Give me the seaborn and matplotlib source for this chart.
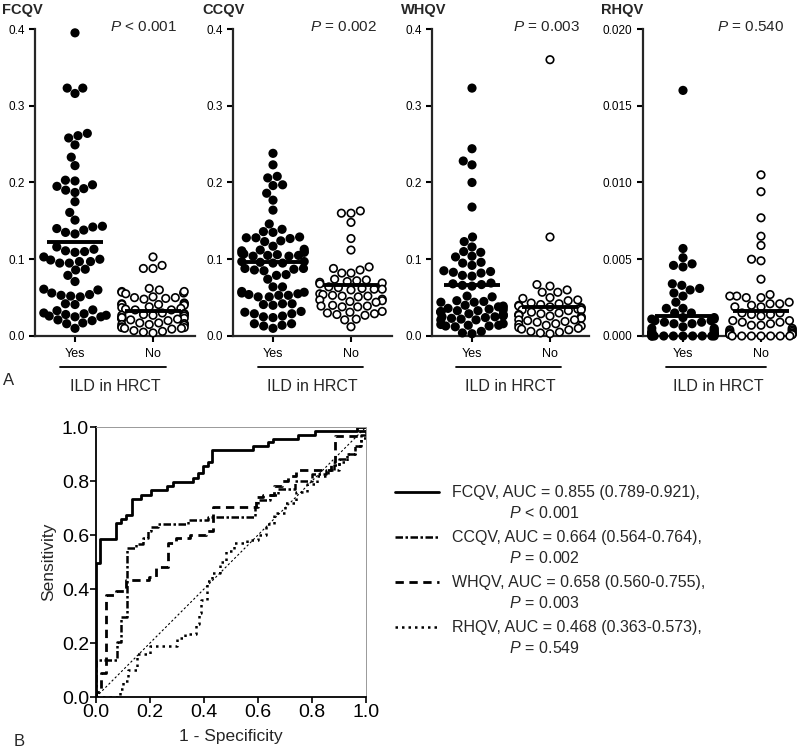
import warnings
import numpy as np
import pandas as pd
import matplotlib
matplotlib.use("Agg")
import matplotlib.pyplot as plt
import seaborn as sns

warnings.filterwarnings("ignore")

# ---- panel A: quantitative values by ILD status ----
groups = ["Yes", "No"]

fcqv_yes = [0.395, 0.323, 0.316, 0.323, 0.264, 0.258, 0.261, 0.249, 0.233, 0.222,
            0.203, 0.202, 0.197, 0.195, 0.192, 0.190, 0.187, 0.175, 0.161, 0.151,
            0.142, 0.140, 0.143, 0.138, 0.135, 0.133, 0.116, 0.113, 0.110, 0.111,
            0.109, 0.103, 0.100, 0.097, 0.095, 0.097, 0.095, 0.099, 0.087, 0.086,
            0.079, 0.071, 0.061, 0.060, 0.056, 0.054, 0.053, 0.052, 0.051, 0.042,
            0.041, 0.034, 0.033, 0.030, 0.028, 0.026, 0.025, 0.025, 0.027, 0.029,
            0.021, 0.020, 0.017, 0.016, 0.010]
fcqv_no = [0.103, 0.092, 0.088, 0.088, 0.062, 0.060, 0.058, 0.057, 0.056, 0.058,
           0.055, 0.051, 0.050, 0.049, 0.050, 0.048, 0.043, 0.042, 0.042, 0.041,
           0.041, 0.040, 0.038, 0.037, 0.036, 0.035, 0.034, 0.034, 0.030, 0.029,
           0.028, 0.029, 0.027, 0.027, 0.028, 0.026, 0.024, 0.023, 0.022, 0.023,
           0.022, 0.021, 0.024, 0.020, 0.017, 0.016, 0.015, 0.016, 0.017, 0.015,
           0.014, 0.012, 0.011, 0.010, 0.011, 0.010, 0.009, 0.007, 0.006, 0.005,
           0.004]

ccqv_yes = [0.238, 0.223, 0.208, 0.206, 0.197, 0.196, 0.186, 0.177, 0.164, 0.146,
            0.139, 0.136, 0.135, 0.129, 0.128, 0.128, 0.127, 0.124, 0.123, 0.117,
            0.113, 0.112, 0.111, 0.110, 0.109, 0.108, 0.107, 0.106, 0.105, 0.105,
            0.104, 0.104, 0.097, 0.097, 0.096, 0.095, 0.095, 0.088, 0.088, 0.087,
            0.086, 0.085, 0.080, 0.079, 0.074, 0.064, 0.064, 0.058, 0.057, 0.056,
            0.055, 0.054, 0.053, 0.053, 0.051, 0.051, 0.042, 0.042, 0.041, 0.040,
            0.032, 0.031, 0.029, 0.029, 0.026, 0.025, 0.024, 0.016, 0.016, 0.014,
            0.013, 0.010]
ccqv_no = [0.163, 0.160, 0.160, 0.148, 0.127, 0.112, 0.090, 0.088, 0.086, 0.082,
           0.082, 0.074, 0.073, 0.072, 0.071, 0.070, 0.069, 0.068, 0.064, 0.063,
           0.062, 0.061, 0.061, 0.060, 0.055, 0.054, 0.053, 0.052, 0.052, 0.051,
           0.048, 0.047, 0.046, 0.045, 0.044, 0.040, 0.039, 0.039, 0.038, 0.038,
           0.032, 0.031, 0.030, 0.029, 0.028, 0.027, 0.022, 0.021, 0.012]

whqv_yes = [0.323, 0.244, 0.228, 0.223, 0.200, 0.168, 0.129, 0.123, 0.116, 0.110,
            0.109, 0.104, 0.103, 0.096, 0.095, 0.092, 0.085, 0.084, 0.083, 0.082,
            0.079, 0.078, 0.069, 0.068, 0.067, 0.066, 0.065, 0.052, 0.051, 0.046,
            0.045, 0.044, 0.044, 0.040, 0.039, 0.038, 0.037, 0.036, 0.035, 0.034,
            0.033, 0.033, 0.032, 0.031, 0.031, 0.029, 0.028, 0.027, 0.026, 0.025,
            0.025, 0.024, 0.023, 0.022, 0.021, 0.021, 0.016, 0.015, 0.014, 0.014,
            0.013, 0.013, 0.012, 0.006, 0.004, 0.003]
whqv_no = [0.360, 0.129, 0.067, 0.065, 0.060, 0.057, 0.057, 0.050, 0.049, 0.047,
           0.046, 0.043, 0.042, 0.041, 0.040, 0.039, 0.038, 0.037, 0.036, 0.035,
           0.034, 0.034, 0.033, 0.031, 0.030, 0.029, 0.028, 0.027, 0.027, 0.026,
           0.025, 0.024, 0.023, 0.021, 0.021, 0.020, 0.019, 0.018, 0.016, 0.015,
           0.014, 0.013, 0.011, 0.010, 0.009, 0.008, 0.006, 0.005, 0.004, 0.003]

rhqv_yes = [0.0160, 0.0057, 0.0051, 0.0047, 0.0046, 0.0045, 0.0034, 0.0033, 0.0031,
            0.0030, 0.0028, 0.0026, 0.0022, 0.0018, 0.0018, 0.0015, 0.0015, 0.0012,
            0.0012, 0.0011, 0.0011, 0.0010, 0.0010, 0.0009, 0.0009, 0.0008, 0.0008,
            0.0006, 0.0005, 0.0005, 0.0004, 0.0003, 0.0003, 0.0002, 0.0002, 0.0002,
            0.0001, 0.0001, 0.0001, 0.0001, 0.0001, 0.0000, 0.0000, 0.0000, 0.0000,
            0.0000, 0.0000, 0.0000, 0.0000, 0.0000, 0.0000]
rhqv_no = [0.0105, 0.0094, 0.0077, 0.0065, 0.0059, 0.0050, 0.0049, 0.0037, 0.0027,
           0.0026, 0.0026, 0.0025, 0.0025, 0.0022, 0.0021, 0.0021, 0.0020, 0.0019,
           0.0019, 0.0015, 0.0015, 0.0014, 0.0014, 0.0013, 0.0010, 0.0010, 0.0009,
           0.0009, 0.0008, 0.0007, 0.0007, 0.0005, 0.0004, 0.0004, 0.0003, 0.0003,
           0.0002, 0.0002, 0.0002, 0.0001, 0.0001, 0.0001, 0.0001, 0.0000, 0.0000,
           0.0000, 0.0000, 0.0000, 0.0000, 0.0000]

# group centre lines (Yes, No)
fcqv_lines = [0.123, 0.033]
ccqv_lines = [0.096, 0.066]
whqv_lines = [0.066, 0.038]
rhqv_lines = [0.0013, 0.0016]

panel_names = ["FCQV", "CCQV", "WHQV", "RHQV"]
panel_p = ["$P$ < 0.001", "$P$ = 0.002", "$P$ = 0.003", "$P$ = 0.540"]
panel_ymax = [0.4, 0.4, 0.4, 0.02]
panel_ystep = [0.1, 0.1, 0.1, 0.005]
panel_fmt = ["%.1f", "%.1f", "%.1f", "%.3f"]

# ---- panel B: ROC curves ----
fcqv_fpr = [0, 0, 0.015, 0.074, 0.093, 0.111, 0.132, 0.167, 0.204, 0.262, 0.285, 0.359,
            0.377, 0.396, 0.415, 0.431, 0.582, 0.637, 0.656, 0.749, 0.811, 0.965, 1.0]
fcqv_tpr = [0, 0.495, 0.585, 0.644, 0.658, 0.675, 0.734, 0.749, 0.765, 0.780, 0.796, 0.810,
            0.829, 0.854, 0.869, 0.913, 0.928, 0.943, 0.955, 0.971, 0.985, 1.0, 1.0]
ccqv_fpr = [0, 0, 0.077, 0.093, 0.114, 0.149, 0.173, 0.192, 0.204, 0.229, 0.34, 0.415,
            0.59, 0.60, 0.644, 0.675, 0.736, 0.80, 0.85, 0.88, 0.90, 0.93, 0.96, 0.98, 1.0]
ccqv_tpr = [0, 0.136, 0.204, 0.297, 0.553, 0.565, 0.588, 0.613, 0.629, 0.641, 0.656, 0.668,
            0.703, 0.73, 0.75, 0.77, 0.80, 0.825, 0.84, 0.86, 0.88, 0.90, 0.93, 0.97, 1.0]
whqv_fpr = [0, 0, 0.02, 0.037, 0.074, 0.111, 0.198, 0.223, 0.266, 0.297, 0.347, 0.408,
            0.433, 0.594, 0.62, 0.66, 0.69, 0.71, 0.74, 0.87, 0.885, 0.97, 1.0]
whqv_tpr = [0, 0.02, 0.09, 0.376, 0.392, 0.433, 0.446, 0.483, 0.569, 0.588, 0.60, 0.613,
            0.703, 0.74, 0.75, 0.78, 0.80, 0.82, 0.84, 0.87, 0.965, 0.985, 1.0]
rhqv_fpr = [0, 0.08, 0.09, 0.10, 0.12, 0.15, 0.20, 0.30, 0.33, 0.37, 0.38, 0.39,
            0.41, 0.43, 0.46, 0.48, 0.51, 0.56, 0.60, 0.63, 0.66, 0.70, 0.74, 0.78, 0.82,
            0.86, 0.90, 0.93, 0.96, 0.98, 1.0]
rhqv_tpr = [0, 0.0, 0.03, 0.06, 0.10, 0.16, 0.19, 0.22, 0.235, 0.27, 0.31, 0.36,
            0.43, 0.46, 0.50, 0.54, 0.57, 0.58, 0.60, 0.64, 0.68, 0.72, 0.76, 0.79, 0.82,
            0.84, 0.87, 0.90, 0.93, 0.96, 1.0]
chance_line = [0.0, 1.0]

roc_labels = [
    "FCQV, AUC = 0.855 (0.789-0.921),\n" + " " * 13 + "$P$ < 0.001",
    "CCQV, AUC = 0.664 (0.564-0.764),\n" + " " * 13 + "$P$ = 0.002",
    "WHQV, AUC = 0.658 (0.560-0.755),\n" + " " * 13 + "$P$ = 0.003",
    "RHQV, AUC = 0.468 (0.363-0.573),\n" + " " * 13 + "$P$ = 0.549",
]

W, H = 800, 750


def px_rect(left, right, top, bottom):
    return [left / W, 1 - bottom / H, (right - left) / W, (bottom - top) / H]


sns.set_style("ticks")
plt.rcParams["font.family"] = ["Liberation Sans", "DejaVu Sans"]
plt.rcParams["mathtext.fontset"] = "custom"
plt.rcParams["mathtext.it"] = "Liberation Sans:italic"
plt.rcParams["mathtext.rm"] = "Liberation Sans"

fig = plt.figure(figsize=(W / 100, H / 100), dpi=100)

# panel A layout, pixel edges of each plot box
box_left = [35, 233, 432, 643]
box_right = [195, 392, 589, 793]
title_x = [2, 202, 401, 601]
p_right = [177, 377, 580, 784]
data_sets = [(fcqv_yes, fcqv_no), (ccqv_yes, ccqv_no), (whqv_yes, whqv_no), (rhqv_yes, rhqv_no)]
centre_sets = [fcqv_lines, ccqv_lines, whqv_lines, rhqv_lines]

for i, name in enumerate(panel_names):
    ax = fig.add_axes(px_rect(box_left[i], box_right[i], 29, 336))
    yes, no = data_sets[i]
    df = pd.DataFrame({"group": ["Yes"] * len(yes) + ["No"] * len(no), "value": yes + no})
    sns.swarmplot(data=df, x="group", y="value", hue="group", order=groups, hue_order=groups,
                  palette={"Yes": "black", "No": "white"}, edgecolor="black", linewidth=1.2,
                  size=5.4, legend=False, ax=ax, clip_on=False, zorder=3)
    ax.hlines(centre_sets[i], [-0.36, 0.64], [0.36, 1.36], colors="black", lw=2.8, zorder=5)

    width = box_right[i] - box_left[i]
    ax.set_xlim(-40 / 78, -40 / 78 + width / 78)
    ax.set_ylim(0, panel_ymax[i])
    ax.set_yticks(np.arange(0, panel_ymax[i] + 1e-9, panel_ystep[i]))
    ax.yaxis.set_major_formatter(matplotlib.ticker.FormatStrFormatter(panel_fmt[i]))
    sns.despine(ax=ax)
    for side in ["left", "bottom"]:
        ax.spines[side].set_linewidth(1.6)
    ax.tick_params(axis="both", width=1.5, length=4, labelsize=8.5, colors="black")
    ax.tick_params(axis="x", pad=5, labelsize=9)
    ax.set_ylabel("")
    ax.set_xlabel("ILD in HRCT", fontsize=11.5, labelpad=13)
    ax.plot([0.155, 0.82], [-0.1, -0.1], transform=ax.transAxes, clip_on=False,
            color="black", lw=1.3)

    fig.text(title_x[i] / W, 1 - 10 / H, name, fontsize=10.5, weight="bold", va="center")
    fig.text(p_right[i] / W, 1 - 27 / H, panel_p[i], fontsize=11, ha="right", va="center")

fig.text(3 / W, 1 - 380 / H, "A", fontsize=12, va="center")
fig.text(14 / W, 1 - 741 / H, "B", fontsize=12, va="center")

# panel B
axb = fig.add_axes(px_rect(96, 366, 427, 697))
roc_sets = [(fcqv_fpr, fcqv_tpr, "-", 2.0),
            (ccqv_fpr, ccqv_tpr, (0, (3, 1, 1, 1)), 1.8),
            (whqv_fpr, whqv_tpr, (0, (3, 2)), 2.0),
            (rhqv_fpr, rhqv_tpr, (0, (1, 1.6)), 1.8)]
for (fpr, tpr, ls, lw), lab in zip(roc_sets, roc_labels):
    sns.lineplot(x=fpr, y=tpr, estimator=None, sort=False, drawstyle="steps-post",
                 color="black", linestyle=ls, lw=lw, label=lab, ax=axb)
sns.lineplot(x=chance_line, y=chance_line, estimator=None, sort=False, color="black",
             linestyle=(0, (2, 2)), lw=0.8, ax=axb)

axb.set_xlim(0, 1)
axb.set_ylim(0, 1)
axb.set_xticks(np.arange(0, 1.01, 0.2))
axb.set_yticks(np.arange(0, 1.01, 0.2))
axb.xaxis.set_major_formatter(matplotlib.ticker.FormatStrFormatter("%.1f"))
axb.yaxis.set_major_formatter(matplotlib.ticker.FormatStrFormatter("%.1f"))
for side in ["left", "bottom"]:
    axb.spines[side].set_linewidth(1.3)
    axb.spines[side].set_color("black")
for side in ["top", "right"]:
    axb.spines[side].set_linewidth(0.7)
    axb.spines[side].set_color("#999999")
axb.tick_params(axis="both", width=1.2, length=4, labelsize=14, colors="black", pad=1)
axb.set_xlabel("1 - Specificity", fontsize=12.5, labelpad=6)
axb.set_ylabel("Sensitivity", fontsize=12.5, labelpad=4)

leg = axb.legend(loc="upper left", bbox_to_anchor=(395 / W, 1 - 485 / H),
                 bbox_transform=fig.transFigure, frameon=False, fontsize=11.5,
                 handlelength=2.75, handleheight=1.1, handletextpad=0.85,
                 labelspacing=0.6, borderpad=0, borderaxespad=0)
for t in leg.get_texts():
    t.set_linespacing(1.35)
# keep each line sample level with the first line of its label
for column in leg._legend_handle_box.get_children():
    for row in column.get_children():
        row.align = "top"

fig.savefig("out.png", dpi=100)
